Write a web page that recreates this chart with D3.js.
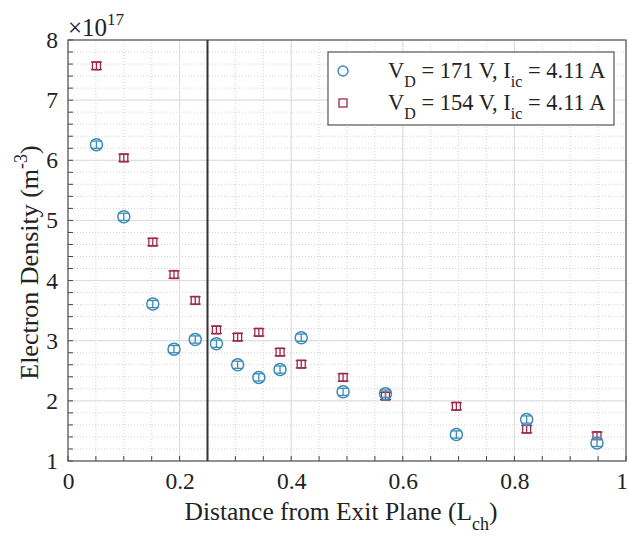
<!DOCTYPE html>
<html>
<head>
<meta charset="utf-8">
<script src="https://cdn.jsdelivr.net/npm/d3@7"></script>
<style>
  html, body { margin: 0; padding: 0; background: #fff; }
  svg { display: block; font-family: "Liberation Serif", "Times New Roman", serif; }
</style>
</head>
<body>
<svg id="chart" width="629" height="537"></svg>
<script>
// Distance from exit plane, in channel lengths
const positions = [0.051, 0.100, 0.152, 0.190, 0.228, 0.266, 0.304, 0.342, 0.380, 0.418, 0.493, 0.569, 0.696, 0.822, 0.948];
// Electron density (×10^17 m^-3) for each discharge voltage
const density171 = [6.26, 5.06, 3.61, 2.86, 3.02, 2.95, 2.60, 2.39, 2.52, 3.05, 2.15, 2.12, 1.44, 1.69, 1.30];
const density154 = [7.57, 6.04, 4.64, 4.10, 3.67, 3.18, 3.06, 3.14, 2.81, 2.61, 2.39, 2.08, 1.91, 1.53, 1.42];
const errorBar = 0.06;
const exitMarker = 0.25;
const xTicks = [0, 0.2, 0.4, 0.6, 0.8, 1];
const yTicks = [1, 2, 3, 4, 5, 6, 7, 8];
const legendLabels = [
  { vd: "171", ic: "4.11" },
  { vd: "154", ic: "4.11" }
];

const blue = "#3a8bb8";
const red = "#9c2a4c";

const svg = d3.select("#chart");
const m = { left: 68, right: 3, top: 40, bottom: 76 };
const W = 629, H = 537;
const x = d3.scaleLinear().domain([0, 1]).range([m.left, W - m.right]);
const y = d3.scaleLinear().domain([1, 8]).range([H - m.bottom, m.top]);

const plot = svg.append("g");

// minor grid (dotted)
const xMinor = d3.range(0, 1.0001, 0.05);
const yMinor = d3.range(1, 8.0001, 0.2);
plot.selectAll(".gx").data(xMinor).join("line")
  .attr("x1", d => x(d)).attr("x2", d => x(d))
  .attr("y1", y(1)).attr("y2", y(8))
  .attr("stroke", "#c8c8c8").attr("stroke-width", 0.8).attr("stroke-dasharray", "1,2");
plot.selectAll(".gy").data(yMinor).join("line")
  .attr("y1", d => y(d)).attr("y2", d => y(d))
  .attr("x1", x(0)).attr("x2", x(1))
  .attr("stroke", "#c8c8c8").attr("stroke-width", 0.8).attr("stroke-dasharray", "1,2");
// major grid (solid)
plot.selectAll(".Gx").data(xTicks).join("line")
  .attr("x1", d => x(d)).attr("x2", d => x(d))
  .attr("y1", y(1)).attr("y2", y(8))
  .attr("stroke", "#dcdcdc").attr("stroke-width", 1);
plot.selectAll(".Gy").data(yTicks).join("line")
  .attr("y1", d => y(d)).attr("y2", d => y(d))
  .attr("x1", x(0)).attr("x2", x(1))
  .attr("stroke", "#dcdcdc").attr("stroke-width", 1);

// axes
const xAxis = d3.axisBottom(x).tickValues(xTicks).tickFormat(d3.format("")).tickSize(0).tickPadding(11);
const yAxis = d3.axisLeft(y).tickValues(yTicks).tickFormat(d3.format("d")).tickSize(0).tickPadding(10);
const gx = svg.append("g").attr("transform", `translate(0,${y(1)})`).call(xAxis);
const gy = svg.append("g").attr("transform", `translate(${x(0)},0)`).call(yAxis);
[gx, gy].forEach(g => {
  g.select(".domain").remove();
  g.selectAll("text").attr("font-size", 23.5).attr("fill", "#222")
    .attr("font-family", "Liberation Serif, serif");
});
// keep the last x label inside the page edge
gx.selectAll(".tick").filter(d => d === 1).select("text")
  .attr("text-anchor", "end").attr("dx", 1.5);

// minor tick marks pointing inward
svg.selectAll(".tx").data(xMinor).join("line")
  .attr("x1", d => x(d)).attr("x2", d => x(d))
  .attr("y1", y(1)).attr("y2", y(1) - 5)
  .attr("stroke", "#444").attr("stroke-width", 1);
svg.selectAll(".ty").data(yMinor).join("line")
  .attr("y1", d => y(d)).attr("y2", d => y(d))
  .attr("x1", x(0)).attr("x2", x(0) + 5)
  .attr("stroke", "#444").attr("stroke-width", 1);

// frame
svg.append("rect").attr("x", x(0)).attr("y", y(8))
  .attr("width", x(1) - x(0)).attr("height", y(1) - y(8))
  .attr("fill", "none").attr("stroke", "#555").attr("stroke-width", 1.2);

// exit-plane reference line
svg.append("line").attr("x1", x(exitMarker)).attr("x2", x(exitMarker))
  .attr("y1", y(1)).attr("y2", y(8))
  .attr("stroke", "#333").attr("stroke-width", 2);

// error bars + markers
function errorBars(data, color) {
  const g = svg.append("g").attr("stroke", color).attr("stroke-width", 1.3).attr("fill", "none");
  data.forEach((v, i) => {
    const cx = x(positions[i]);
    g.append("line").attr("x1", cx).attr("x2", cx).attr("y1", y(v - errorBar)).attr("y2", y(v + errorBar));
    g.append("line").attr("x1", cx - 5.5).attr("x2", cx + 5.5).attr("y1", y(v - errorBar)).attr("y2", y(v - errorBar));
    g.append("line").attr("x1", cx - 5.5).attr("x2", cx + 5.5).attr("y1", y(v + errorBar)).attr("y2", y(v + errorBar));
  });
}
errorBars(density154, red);
svg.append("g").selectAll("rect").data(density154).join("rect")
  .attr("x", (d, i) => x(positions[i]) - 4).attr("y", d => y(d) - 4)
  .attr("width", 8).attr("height", 8)
  .attr("fill", "none").attr("stroke", red).attr("stroke-width", 1.3);
errorBars(density171, blue);
svg.append("g").selectAll("circle").data(density171).join("circle")
  .attr("cx", (d, i) => x(positions[i])).attr("cy", d => y(d)).attr("r", 6)
  .attr("fill", "none").attr("stroke", blue).attr("stroke-width", 1.5);

// exponent label
const expo = svg.append("text").attr("x", 68).attr("y", 36).attr("font-size", 25).attr("fill", "#222");
expo.append("tspan").text("×10");
expo.append("tspan").attr("dy", -11).attr("font-size", 17).text("17");

// axis titles
const xt = svg.append("text").attr("x", (x(0) + x(1)) / 2 - 6).attr("y", 520)
  .attr("text-anchor", "middle").attr("font-size", 25.5).attr("fill", "#222");
xt.append("tspan").text("Distance from Exit Plane (L");
xt.append("tspan").attr("dy", 10).attr("font-size", 18).text("ch");
xt.append("tspan").attr("dy", -10).text(")");

const yt = svg.append("text")
  .attr("transform", `translate(38,${(y(1) + y(8)) / 2 + 12}) rotate(-90)`)
  .attr("text-anchor", "middle").attr("font-size", 26).attr("fill", "#222");
yt.append("tspan").text("Electron Density (m");
yt.append("tspan").attr("dy", -11).attr("font-size", 18).text("-3");
yt.append("tspan").attr("dy", 11).text(")");

// legend
const lg = svg.append("g");
lg.append("rect").attr("x", 328).attr("y", 52).attr("width", 286).attr("height", 73)
  .attr("fill", "#fff").attr("stroke", "#555").attr("stroke-width", 1.2);
legendLabels.forEach((d, i) => {
  const cy = 71 + i * 32;
  if (i === 0) {
    lg.append("circle").attr("cx", 343).attr("cy", cy).attr("r", 5)
      .attr("fill", "none").attr("stroke", blue).attr("stroke-width", 1.4);
  } else {
    lg.append("rect").attr("x", 339).attr("y", cy - 4).attr("width", 8).attr("height", 8)
      .attr("fill", "none").attr("stroke", red).attr("stroke-width", 1.3);
  }
  const t = lg.append("text").attr("x", 388).attr("y", cy + 7).attr("font-size", 22.5).attr("fill", "#222");
  t.append("tspan").text("V");
  t.append("tspan").attr("dy", 9).attr("font-size", 16).text("D");
  t.append("tspan").attr("dy", -9).text(` = ${d.vd} V, I`);
  t.append("tspan").attr("dy", 9).attr("font-size", 16).text("ic");
  t.append("tspan").attr("dy", -9).text(` = ${d.ic} A`);
});
</script>
</body>
</html>
